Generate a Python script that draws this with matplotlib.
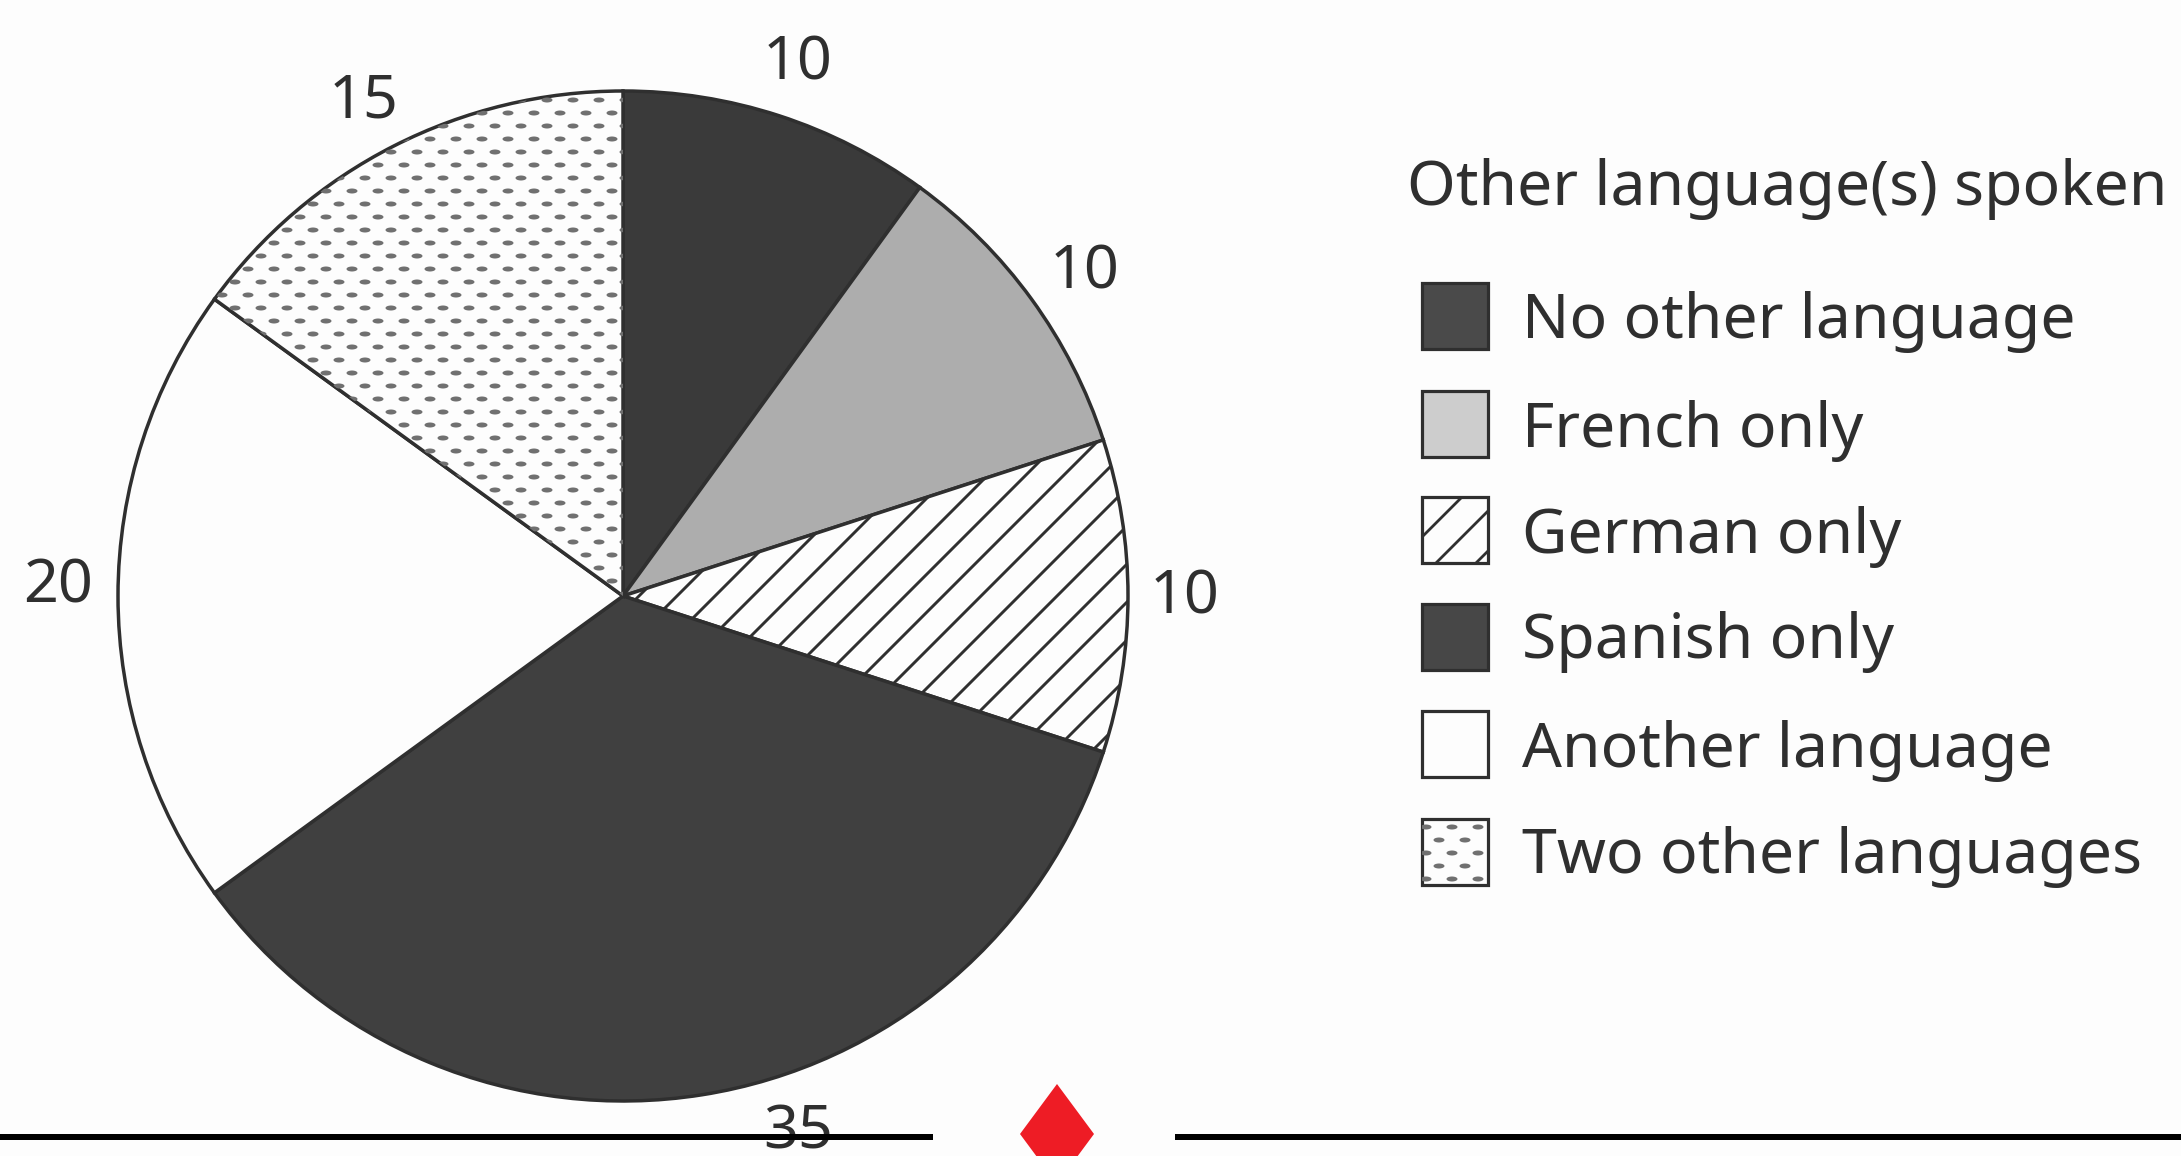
import numpy as np
import matplotlib
matplotlib.use("Agg")
import matplotlib.pyplot as plt
from matplotlib.patches import Rectangle, Polygon, Ellipse
from matplotlib.collections import PatchCollection, LineCollection

plt.rcParams['font.family'] = ['Noto Sans', 'DejaVu Sans']

legend_title = "Other language(s) spoken"
categories = ["No other language", "French only", "German only",
              "Spanish only", "Another language", "Two other languages"]
values = [10, 10, 10, 35, 20, 15]
value_labels = ["10", "10", "10", "35", "20", "15"]
pie_colors = ["#3a3a3a", "#adadad", "#fdfdfd", "#404040", "#fdfdfd", "#fdfdfd"]
legend_colors = ["#4a4a4a", "#cdcdcd", "#fdfdfd", "#474747", "#fdfdfd", "#fdfdfd"]
patterns = [None, None, "lines", None, None, "dots"]

W, H = 2181, 1156
INK = "#2f2f2f"
BG = "#fdfdfd"

fig = plt.figure(figsize=(W / 100, H / 100), dpi=100, facecolor=BG)
ax = fig.add_axes([0, 0, 1, 1])
cx, cy, R = 623, H - 596, 505

wedges, _ = ax.pie(values, center=(cx, cy), radius=R, startangle=90, counterclock=False,
                   colors=pie_colors, frame=False,
                   wedgeprops=dict(edgecolor=INK, linewidth=2.5))
ax.set_xlim(0, W)
ax.set_ylim(0, H)
ax.set_aspect("equal")
ax.axis("off")


def add_lines(x0, y0, x1, y1, step, clip, lw, z):
    offs = np.arange(x0 - (y1 - y0), x1, step)
    segs = [[(o, y0), (o + (y1 - y0), y1)] for o in offs]
    lc = LineCollection(segs, colors=INK, linewidths=lw, zorder=z)
    ax.add_collection(lc)
    lc.set_clip_path(clip)


def add_dots(x0, y0, x1, y1, dx, dy, w, h, clip, z):
    patches = []
    for i, y in enumerate(np.arange(y0, y1, dy)):
        for x in np.arange(x0 + (i % 2) * dx / 2, x1, dx):
            patches.append(Ellipse((x, y), w, h))
    pc = PatchCollection(patches, facecolor="#707070", edgecolor="none", zorder=z)
    ax.add_collection(pc)
    pc.set_clip_path(clip)


for wedge, pat in zip(wedges, patterns):
    if pat == "lines":
        add_lines(cx - R, cy - R, cx + R, cy + R, 38, wedge, 2.1, 1.5)
    elif pat == "dots":
        add_dots(cx - R, cy - R, cx + R, cy + R, 26, 13, 11, 5, wedge, 1.5)

# value labels
label_pos = [(798, 64), (1085, 273), (1185, 598), (798, 1133), (58, 587), (364, 102)]
for (x, y), s in zip(label_pos, value_labels):
    ax.text(x, H - y, s, fontsize=44, color=INK, ha="center", va="center", zorder=1)

# legend
ax.text(1407, H - 189, legend_title, fontsize=45, color=INK, ha="left", va="center")
box_y = [316, 424, 530, 637, 744, 852]
text_y = [322, 431, 537, 642, 751, 857]
bw = 66
for i, lab in enumerate(categories):
    y = H - box_y[i]
    rect = Rectangle((1422, y - bw / 2), bw, bw, facecolor=legend_colors[i],
                     edgecolor=INK, linewidth=2.3, zorder=3)
    ax.add_patch(rect)
    if patterns[i] == "lines":
        add_lines(1422, y - bw / 2, 1422 + bw, y + bw / 2, 40, rect, 2.0, 3.5)
    elif patterns[i] == "dots":
        add_dots(1426, y - bw / 2 + 6, 1422 + bw, y + bw / 2, 26, 13, 11, 5, rect, 3.5)
    ax.text(1522, H - text_y[i], lab, fontsize=45, color=INK, ha="left", va="center")

# page rule with diamond ornament
ax.fill_between([0, 933], H - 1140, H - 1134, color="black", lw=0, zorder=5)
ax.fill_between([1175, W], H - 1140, H - 1134, color="black", lw=0, zorder=5)
ax.add_patch(Polygon([(1057, H - 1084), (1094, H - 1134), (1057, H - 1184), (1020, H - 1134)],
                     closed=True, facecolor="#ee1c25", edgecolor="none", zorder=5))

fig.savefig("out.png", dpi=100, facecolor=BG)
